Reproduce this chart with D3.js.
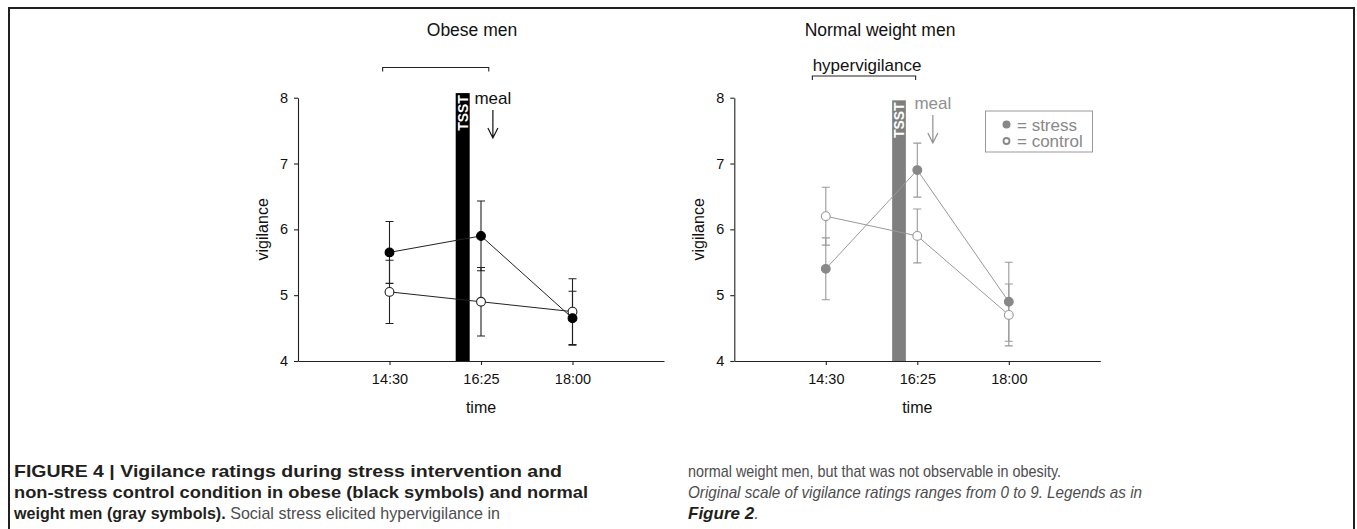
<!DOCTYPE html>
<html>
<head>
<meta charset="utf-8">
<script src="https://cdn.jsdelivr.net/npm/d3@7/dist/d3.min.js"></script>
<style>
  html, body { margin: 0; padding: 0; background: #fff; }
  svg { display: block; }
  text { font-family: "Liberation Sans", Arial, Helvetica, sans-serif; }
</style>
</head>
<body>
<svg id="fig" width="1357" height="529"></svg>
<script>
// Measurement times (x categories) and y-axis ticks
const times = ["14:30", "16:25", "18:00"];
const yTicks = [4, 5, 6, 7, 8];

// Obese men: mean vigilance and standard error
const obeseStress = [5.65, 5.90, 4.65];
const obeseStressSE = [0.47, 0.53, 0.41];
const obeseControl = [5.05, 4.90, 4.75];
const obeseControlSE = [0.48, 0.52, 0.50];

// Normal weight men: mean vigilance and standard error
const normalStress = [5.40, 6.90, 4.90];
const normalStressSE = [0.47, 0.41, 0.60];
const normalControl = [6.20, 5.90, 4.70];
const normalControlSE = [0.44, 0.41, 0.47];

const svg = d3.select("#fig");

// Figure frame (open at the bottom)
svg.append("path")
  .attr("d", "M9,529V8H1354V529")
  .attr("fill", "none")
  .attr("stroke", "#231f20")
  .attr("stroke-width", 2);

function drawPanel(cfg) {
  const x = d3.scaleLinear().domain([0, 4]).range([cfg.left, cfg.left + 366]);
  const y = d3.scaleLinear().domain([4, 8]).range([361, 97.7]);
  const g = svg.append("g");

  // Title
  g.append("text")
    .attr("x", cfg.titleX).attr("y", 36)
    .attr("text-anchor", "middle")
    .attr("font-size", 17.5)
    .attr("fill", "#111")
    .text(cfg.title);

  // Bracket marking the post-stress interval
  const by = cfg.bracketY;
  const bx0 = x(cfg.bracket[0]), bx1 = x(cfg.bracket[1]);
  g.append("path")
    .attr("d", `M${bx0},${by + 4}V${by}H${bx1}V${by + 4}`)
    .attr("fill", "none").attr("stroke", "#222").attr("stroke-width", 1.1);
  if (cfg.bracketLabel) {
    g.append("text")
      .attr("x", (bx0 + bx1) / 2 + 3).attr("y", by - 5)
      .attr("text-anchor", "middle")
      .attr("font-size", 17)
      .attr("fill", "#111")
      .text(cfg.bracketLabel);
  }

  // TSST bar
  const tx0 = x(cfg.tsst - cfg.tsstWidth / 2), tx1 = x(cfg.tsst + cfg.tsstWidth / 2);
  g.append("rect")
    .attr("x", tx0).attr("y", y(cfg.tsstTop))
    .attr("width", tx1 - tx0).attr("height", y(4) - y(cfg.tsstTop))
    .attr("fill", cfg.barColor);
  const tcx = x(cfg.tsst), tcy = y(cfg.tsstTop) + 2;
  g.append("text")
    .attr("transform", `translate(${tcx + 5},${tcy}) rotate(-90)`)
    .attr("text-anchor", "end")
    .attr("font-size", 14)
    .attr("font-weight", "bold")
    .attr("fill", "#fff")
    .text("TSST");

  // Meal annotation
  const mx = x(cfg.meal);
  g.append("text")
    .attr("x", mx).attr("y", cfg.mealY)
    .attr("text-anchor", "middle")
    .attr("font-size", 17)
    .attr("fill", cfg.annColor)
    .text("meal");
  const a0 = cfg.mealY + 6, a1 = cfg.mealY + 34;
  g.append("path")
    .attr("d", `M${mx},${a0}V${a1}M${mx - 5},${a1 - 10}L${mx},${a1}L${mx + 5},${a1 - 10}`)
    .attr("fill", "none").attr("stroke", cfg.annColor).attr("stroke-width", 1.2);

  // Axes
  const yAxis = g.append("g")
    .attr("transform", `translate(${cfg.left},0)`)
    .call(d3.axisLeft(y).tickValues(yTicks).tickSize(4).tickSizeOuter(0).tickPadding(6).tickFormat(d3.format("d")));
  const xAxis = g.append("g")
    .attr("transform", `translate(0,${y(4)})`)
    .call(d3.axisBottom(x).tickValues([1, 2, 3]).tickSize(4).tickSizeOuter(0).tickPadding(9)
      .tickFormat(i => times[i - 1]));
  [yAxis, xAxis].forEach(ax => {
    ax.selectAll("path, line").attr("stroke", "#222").attr("stroke-width", 1.1);
    ax.selectAll("text").attr("font-size", 14.5).attr("fill", "#111")
      .attr("font-family", "'Liberation Sans', Arial, sans-serif");
  });

  g.append("text")
    .attr("transform", `translate(${cfg.left - 30},${(y(4) + y(8)) / 2}) rotate(-90)`)
    .attr("text-anchor", "middle")
    .attr("font-size", 16).attr("fill", "#111")
    .text("vigilance");
  g.append("text")
    .attr("x", x(2)).attr("y", 413)
    .attr("text-anchor", "middle")
    .attr("font-size", 16).attr("fill", "#111")
    .text("time");

  // Series: error bars, connecting lines, markers
  const series = [
    { mean: cfg.control, se: cfg.controlSE, filled: false },
    { mean: cfg.stress, se: cfg.stressSE, filled: true }
  ];
  series.forEach(s => {
    s.mean.forEach((m, i) => {
      const cx = x(i + 1);
      const lo = y(m - s.se[i]), hi = y(m + s.se[i]);
      g.append("path")
        .attr("d", `M${cx},${lo}V${hi}M${cx - 4},${lo}H${cx + 4}M${cx - 4},${hi}H${cx + 4}`)
        .attr("fill", "none").attr("stroke", cfg.lineColor).attr("stroke-width", 1.1);
    });
  });
  const line = d3.line().x((d, i) => x(i + 1)).y(d => y(d));
  series.forEach(s => {
    g.append("path").attr("d", line(s.mean))
      .attr("fill", "none").attr("stroke", cfg.lineColor).attr("stroke-width", 1);
  });
  series.forEach(s => {
    g.selectAll(null).data(s.mean).enter().append("circle")
      .attr("cx", (d, i) => x(i + 1)).attr("cy", d => y(d))
      .attr("r", 4.4)
      .attr("fill", s.filled ? cfg.markColor : "#fff")
      .attr("stroke", s.filled ? cfg.markColor : cfg.lineColor)
      .attr("stroke-width", 1.1);
  });

  if (cfg.legend) {
    const lg = g.append("g");
    lg.append("rect")
      .attr("x", 985.5).attr("y", 111)
      .attr("width", 107).attr("height", 41)
      .attr("fill", "#fff").attr("stroke", "#999").attr("stroke-width", 1);
    [["= stress", true, 124.5], ["= control", false, 141]].forEach(([label, filled, ly]) => {
      lg.append("circle")
        .attr("cx", 1006.5).attr("cy", ly).attr("r", filled ? 4 : 3)
        .attr("fill", filled ? "#888" : "#fff")
        .attr("stroke", "#888").attr("stroke-width", filled ? 0 : 1.8);
      lg.append("text")
        .attr("x", 1017).attr("y", ly + 6)
        .attr("font-size", 17).attr("fill", "#888")
        .text(label);
    });
  }
}

drawPanel({
  left: 298, title: "Obese men", titleX: 472,
  bracket: [0.925, 2.085], bracketY: 67.5, bracketLabel: null,
  tsst: 1.8, tsstWidth: 0.153, tsstTop: 8.07, barColor: "#000",
  meal: 2.13, mealY: 104, annColor: "#111",
  lineColor: "#222", markColor: "#000",
  stress: obeseStress, stressSE: obeseStressSE,
  control: obeseControl, controlSE: obeseControlSE,
  legend: false
});

drawPanel({
  left: 734.3, title: "Normal weight men", titleX: 880,
  bracket: [0.853, 1.982], bracketY: 76, bracketLabel: "hypervigilance",
  tsst: 1.8, tsstWidth: 0.15, tsstTop: 7.96, barColor: "#7f7f7f",
  meal: 2.17, mealY: 109, annColor: "#8f8f8f",
  lineColor: "#999", markColor: "#888",
  stress: normalStress, stressSE: normalStressSE,
  control: normalControl, controlSE: normalControlSE,
  legend: true
});

// Caption, two columns
const cap = svg.append("g")
  .attr("font-family", "'Liberation Sans Narrow', 'Arial Narrow', 'Liberation Sans', sans-serif")
  .attr("font-size", 17);
function capLine(xPos, yPos, width, parts) {
  const t = cap.append("text").attr("x", xPos).attr("y", yPos);
  parts.forEach(p => {
    t.append("tspan")
      .attr("font-weight", p.b ? "bold" : "normal")
      .attr("font-style", p.i ? "italic" : "normal")
      .attr("fill", p.b ? "#231f20" : "#4d4d4f")
      .text(p.t);
  });
  if (width) t.attr("textLength", width).attr("lengthAdjust", "spacingAndGlyphs");
}
capLine(14, 476.5, 548, [{ t: "FIGURE 4 | Vigilance ratings during stress intervention and", b: true }]);
capLine(14, 497.5, 574, [{ t: "non-stress control condition in obese (black symbols) and normal", b: true }]);
capLine(14, 518.5, 486, [{ t: "weight men (gray symbols).", b: true }, { t: " Social stress elicited hypervigilance in" }]);
capLine(688, 476.5, 373, [{ t: "normal weight men, but that was not observable in obesity." }]);
capLine(688, 497.5, 454, [{ t: "Original scale of vigilance ratings ranges from 0 to 9. Legends as in", i: true }]);
capLine(688, 518.5, null, [{ t: "Figure 2", b: true, i: true }, { t: ".", i: true }]);
</script>
</body>
</html>
